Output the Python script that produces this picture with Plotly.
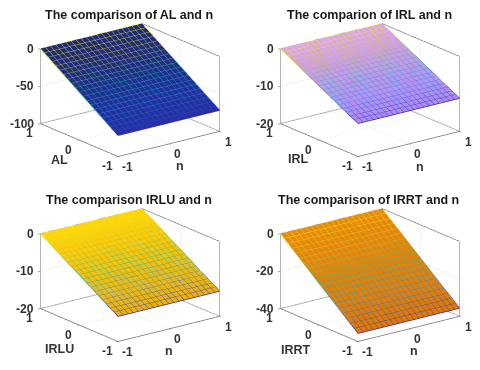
"""Four MATLAB style surface panels: comparison of AL, IRL, IRLU, IRRT against n."""

import plotly.graph_objects as go

# grid of both inputs, read from the 20 cells per side
n_values = [-1.0, -0.9, -0.8, -0.7, -0.6, -0.5, -0.4, -0.3, -0.2, -0.1, 0.0,
            0.1, 0.2, 0.3, 0.4, 0.5, 0.6, 0.7, 0.8, 0.9, 1.0]
factor_values = [-1.0, -0.9, -0.8, -0.7, -0.6, -0.5, -0.4, -0.3, -0.2, -0.1, 0.0,
                 0.1, 0.2, 0.3, 0.4, 0.5, 0.6, 0.7, 0.8, 0.9, 1.0]

# surface height per factor row (no visible change along n)
al_heights = [-72.0, -68.4, -64.8, -61.2, -57.6, -54.0, -50.4, -46.8, -43.2, -39.6, -36.0,
              -32.4, -28.8, -25.2, -21.6, -18.0, -14.4, -10.8, -7.2, -3.6, 0.0]
irl_heights = [-11.2, -10.6, -10.1, -9.5, -9.0, -8.4, -7.8, -7.3, -6.7, -6.2, -5.6,
               -5.0, -4.5, -3.9, -3.4, -2.8, -2.2, -1.7, -1.1, -0.6, 0.0]
irlu_heights = [-13.3, -12.6, -12.0, -11.3, -10.6, -10.0, -9.3, -8.6, -8.0, -7.3, -6.6,
                -6.0, -5.3, -4.7, -4.0, -3.3, -2.7, -2.0, -1.3, -0.7, 0.0]
irrt_heights = [-35.7, -33.9, -32.1, -30.3, -28.6, -26.8, -25.0, -23.2, -21.4, -19.6, -17.9,
                -16.1, -14.3, -12.5, -10.7, -8.9, -7.1, -5.4, -3.6, -1.8, 0.0]

titles = ["The comparison of AL and n", "The comparion of IRL and n",
          "The comparison IRLU and n", "The comparison of IRRT and n"]
factor_labels = ["AL", "IRL", "IRLU", "IRRT"]
z_ranges = [[-100, 0], [-20, 0], [-20, 0], [-40, 0]]
z_ticks = [[-100, -50, 0], [-20, -10, 0], [-20, -10, 0], [-40, -20, 0]]
side_ticks = [-1, 0, 1]
all_heights = [al_heights, irl_heights, irlu_heights, irrt_heights]

# low end first
face_scales = [["#2233a8", "#1e2a78"], ["#a98af5", "#dca6ea"],
               ["#e8b010", "#ffd60a"], ["#dd7a08", "#e88a0c"]]
parula = [[0.0, "#3e26a8"], [0.25, "#2a8fe8"], [0.5, "#20b8a0"],
          [0.75, "#c8c030"], [1.0, "#f9f50f"]]

EYE = dict(x=-0.574, y=-0.751, z=0.324)
ZOOM = 1.6
TICK_FONT = dict(family="Liberation Sans", size=12, color="#333333")
CELL_CENTERS = [(122, 82), (362, 82), (122, 267), (362, 267)]
SCENE_W, SCENE_H = 210, 164
# the page keeps its 8px body margin, so the figure is drawn 8px smaller
W, H = 472, 362
MARGIN = 8

fig = go.Figure()

for i, heights in enumerate(all_heights):
    scene = "scene" if i == 0 else f"scene{i + 1}"
    z_grid = [[h for _ in n_values] for h in heights]
    fig.add_trace(go.Surface(
        x=n_values, y=factor_values, z=z_grid, scene=scene,
        surfacecolor=z_grid, colorscale=[[0, face_scales[i][0]], [1, face_scales[i][1]]],
        showscale=False,
        lighting=dict(ambient=1, diffuse=0, specular=0, fresnel=0),
    ))

    # mesh edges coloured by height, like MATLAB's faceted surf
    xs, ys, zs, cs = [], [], [], []
    for j, f in enumerate(factor_values):
        for m in n_values:
            xs.append(m); ys.append(f); zs.append(heights[j]); cs.append(heights[j])
        xs.append(None); ys.append(None); zs.append(None); cs.append(heights[j])
    for m in n_values:
        for j, f in enumerate(factor_values):
            xs.append(m); ys.append(f); zs.append(heights[j]); cs.append(heights[j])
        xs.append(None); ys.append(None); zs.append(None); cs.append(0.0)
    fig.add_trace(go.Scatter3d(
        x=xs, y=ys, z=zs, mode="lines", scene=scene, showlegend=False, hoverinfo="skip",
        line=dict(width=1.5, color=cs, colorscale=parula, cmin=heights[0], cmax=0),
    ))

    # box edges that MATLAB leaves on screen
    lo, hi = z_ranges[i]
    bx = [-1, 1, None, -1, -1, None, 1, 1, None, -1, 1, None, 1, 1, None, 1, 1, None, -1, -1, None, -1, 1]
    by = [-1, -1, None, -1, 1, None, 1, -1, None, 1, 1, None, 1, -1, None, -1, -1, None, 1, 1, None, 1, 1]
    bz = [lo, lo, None, lo, lo, None, lo, lo, None, hi, hi, None, hi, hi, None, lo, hi, None, lo, hi, None, lo, lo]
    fig.add_trace(go.Scatter3d(
        x=bx, y=by, z=bz, mode="lines", scene=scene, showlegend=False, hoverinfo="skip",
        line=dict(width=1.5, color="#555555"),
    ))

    # tick labels as scene annotations so they can sit where MATLAB puts them
    tick_labels = []
    for v in side_ticks:
        tick_labels.append(dict(x=v, y=-1, z=lo, text=f"<b>{v}</b>", showarrow=False,
                                xshift=9, yshift=-10.5, font=TICK_FONT))
        tick_labels.append(dict(x=-1, y=v, z=lo, text=f"<b>{v}</b>", showarrow=False,
                                xshift=-11, yshift=-9.5, font=TICK_FONT))
    for v in z_ticks[i]:
        tick_labels.append(dict(x=-1, y=1, z=v, text=f"<b>{v}</b>", showarrow=False,
                                xanchor="right", xshift=-4, font=TICK_FONT))

    cx, cy = CELL_CENTERS[i]
    axis_common = dict(showbackground=False, showspikes=False, title=dict(text=""),
                       gridcolor="#e4e4e4", gridwidth=1, zeroline=False, showline=False,
                       ticks="outside", ticklen=3, tickcolor="#555555", showticklabels=False)
    fig.update_layout({scene: dict(
        domain=dict(x=[(cx - SCENE_W / 2) / W, (cx + SCENE_W / 2) / W],
                    y=[1 - (cy + SCENE_H / 2) / H, 1 - (cy - SCENE_H / 2) / H]),
        xaxis=dict(range=[-1, 1], tickvals=side_ticks, **axis_common),
        yaxis=dict(range=[-1, 1], tickvals=side_ticks, **axis_common),
        zaxis=dict(range=z_ranges[i], tickvals=z_ticks[i], **axis_common),
        aspectmode="manual", aspectratio=dict(x=1.56, y=1.56, z=0.966),
        camera=dict(eye=dict(x=EYE["x"] * ZOOM, y=EYE["y"] * ZOOM, z=EYE["z"] * ZOOM),
                    center=dict(x=0, y=0, z=0), projection=dict(type="orthographic")),
        annotations=tick_labels,
    )})

# titles and axis names sit at fixed spots in each cell
title_x = [129, 369, 129, 368]
title_y = [15, 15, 200, 200]
factor_x = [59, 298, 59, 296]
factor_y = [160, 159, 349, 350]
n_x = [180, 420, 169, 414]
n_y = [166, 167, 351, 351]
annotations = []
for i in range(4):
    annotations.append(dict(text=f"<b>{titles[i]}</b>", x=(title_x[i] - MARGIN) / W, y=1 - (title_y[i] - MARGIN) / H,
                            xref="paper", yref="paper", showarrow=False,
                            xanchor="center", yanchor="middle",
                            font=dict(family="Liberation Sans", size=12.5, color="#1a1a1a")))
    annotations.append(dict(text=f"<b>{factor_labels[i]}</b>", x=(factor_x[i] - MARGIN) / W, y=1 - (factor_y[i] - MARGIN) / H,
                            xref="paper", yref="paper", showarrow=False,
                            xanchor="center", yanchor="middle",
                            font=dict(family="Liberation Sans", size=12.5, color="#333333")))
    annotations.append(dict(text="<b>n</b>", x=(n_x[i] - MARGIN) / W, y=1 - (n_y[i] - MARGIN) / H,
                            xref="paper", yref="paper", showarrow=False,
                            xanchor="center", yanchor="middle",
                            font=dict(family="Liberation Sans", size=12.5, color="#333333")))

fig.update_layout(width=W, height=H, margin=dict(l=0, r=0, t=0, b=0),
                  paper_bgcolor="white", showlegend=False, annotations=annotations)

fig.write_html("out.html")
